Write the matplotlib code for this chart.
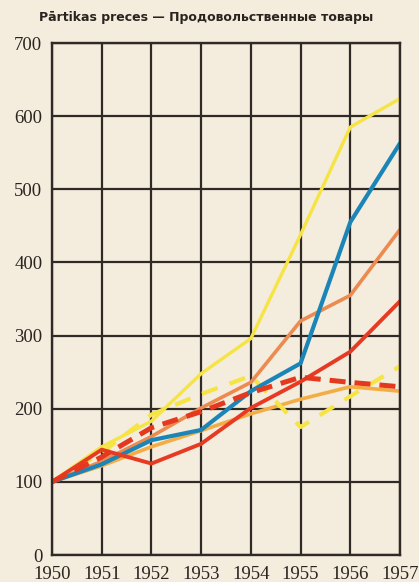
import numpy as np
import matplotlib.pyplot as plt

# years and index values (1950 = 100)
years = [1950, 1951, 1952, 1953, 1954, 1955, 1956, 1957]
yellow_solid = [100, 148, 183, 248, 296, 438, 585, 624]
yellow_dash = [100, 140, 192, 220, 245, 175, 217, 258]
orange = [100, 128, 162, 201, 236, 320, 355, 445]
light_orange = [100, 122, 148, 170, 193, 213, 230, 224]
blue = [100, 124, 157, 171, 224, 262, 455, 563]
red_solid = [100, 144, 125, 152, 201, 237, 278, 347]
red_dash = [100, 134, 174, 196, 222, 243, 236, 230]

yticks = [0, 100, 200, 300, 400, 500, 600, 700]
title = "Pārtikas preces \u2014 Продовольственные товары"

paper = '#f4ecdd'
ink = '#2f2a25'

fig = plt.figure(figsize=(4.19, 5.82), dpi=100, facecolor=paper)
ax = fig.add_axes([52/419, 27/582, 348/419, 512/582])
ax.set_facecolor(paper)

ax.plot(years, light_orange, color='#f4ad45', lw=2.6, solid_capstyle='round')
ax.plot(years, yellow_solid, color='#f6e444', lw=2.4, solid_capstyle='round')
ax.plot(years, yellow_dash, color='#f6e444', lw=3.0, dashes=(4, 3))
ax.plot(years, orange, color='#ec8a50', lw=2.6, solid_capstyle='round')
ax.plot(years, blue, color='#1b85b8', lw=3.0, solid_capstyle='round')
ax.plot(years, red_solid, color='#e83a22', lw=2.8, solid_capstyle='round')
ax.plot(years, red_dash, color='#e4381f', lw=3.6, dashes=(3.2, 1.8))

ax.set_xlim(1950, 1957)
ax.set_ylim(0, 700)
ax.set_xticks(years)
ax.set_yticks(yticks)
ax.grid(True, color=ink, lw=1.6, zorder=0)
ax.set_axisbelow(True)
for s in ax.spines.values():
    s.set_color(ink)
    s.set_linewidth(1.7)
ax.tick_params(length=0, labelsize=13.5, labelcolor='#2a2420')
ax.tick_params(axis='y', pad=7)
ax.tick_params(axis='x', pad=8)
for lbl in ax.get_xticklabels() + ax.get_yticklabels():
    lbl.set_family('Liberation Serif')

fig.text(206/419, 1 - 17/582, title, ha='center', va='center',
         fontsize=9, fontweight='bold', family='DejaVu Sans', color='#2a2420')

fig.savefig('out.png', dpi=100, facecolor=paper)
